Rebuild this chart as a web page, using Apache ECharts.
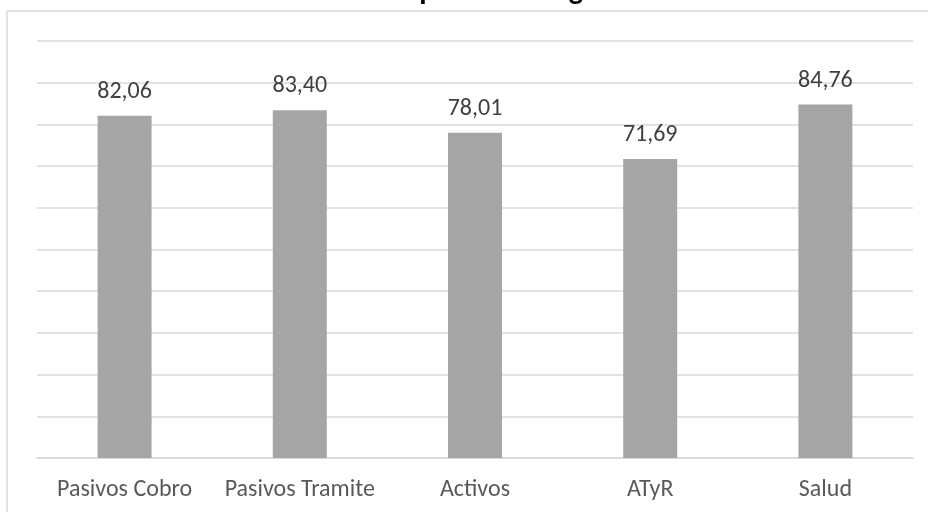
<!DOCTYPE html>
<html>
<head>
<meta charset="utf-8">
<script src="https://cdn.jsdelivr.net/npm/echarts@6/dist/echarts.min.js"></script>
<style>
  html, body { margin: 0; padding: 0; background: #fff; }
  #chart { width: 928px; height: 512px; }
</style>
</head>
<body>
<div id="chart"></div>
<script>
// Areas and their scores
const categories = ['Pasivos Cobro', 'Pasivos Tramite', 'Activos', 'ATyR', 'Salud'];
const scores = [82.06, 83.40, 78.01, 71.69, 84.76];
const chartTitle = 'Promedio por área de gestión';

const FONT = 'Carlito, Calibri, Lato, sans-serif';
const fmt = v => v.toFixed(2).replace('.', ',');

const chart = echarts.init(document.getElementById('chart'), null, { renderer: 'canvas' });

chart.setOption({
  backgroundColor: '#ffffff',
  animation: false,
  grid: { left: 37, right: 15, top: 41, bottom: 54, containLabel: false },
  graphic: [
    {
      type: 'rect',
      shape: { x: 7, y: 11, width: 940, height: 520 },
      style: { fill: 'none', stroke: '#d9d9d9', lineWidth: 1.5 },
      silent: true, z: -1
    },
    {
      type: 'text',
      x: 475, y: -24,
      style: {
        text: chartTitle,
        font: 'bold 30px ' + FONT,
        fill: '#000000',
        textAlign: 'center'
      },
      silent: true
    }
  ],
  xAxis: {
    type: 'category',
    data: categories,
    axisLine: { show: true, lineStyle: { color: '#d9d9d9', width: 1.5 } },
    axisTick: { show: false },
    axisLabel: { color: '#595959', fontSize: 24, fontFamily: FONT, margin: 20, interval: 0 }
  },
  yAxis: {
    type: 'value',
    min: 0, max: 100, interval: 10,
    axisLabel: { show: false },
    axisLine: { show: false },
    axisTick: { show: false },
    splitLine: { show: true, lineStyle: { color: '#d9d9d9', width: 1.5 } }
  },
  series: [{
    type: 'bar',
    data: scores,
    barWidth: 54,
    itemStyle: { color: '#a5a5a5' },
    label: {
      show: true,
      position: 'top',
      distance: 12,
      color: '#404040',
      fontSize: 24,
      fontFamily: FONT,
      formatter: p => fmt(p.value)
    }
  }]
});
</script>
</body>
</html>
